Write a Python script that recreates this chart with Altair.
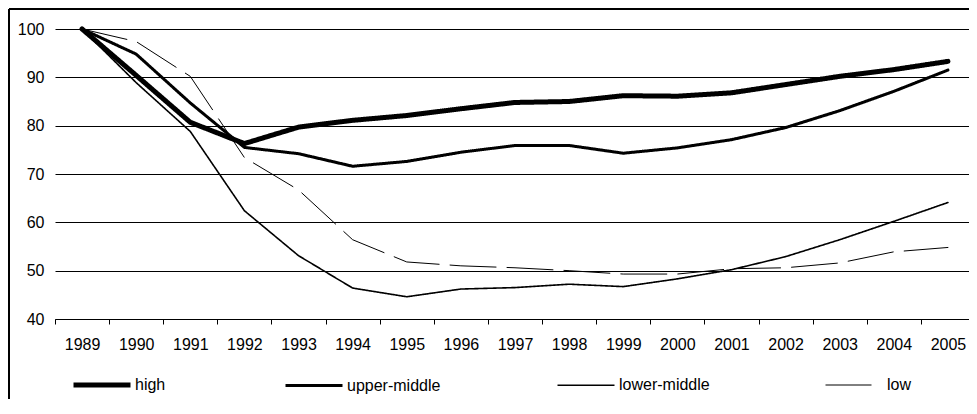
import altair as alt
import pandas as pd

years = [str(y) for y in range(1989, 2006)]
series_names = ["high", "upper-middle", "lower-middle", "low"]
high = [100, 90.4, 80.7, 76.3, 79.7, 81.1, 82.1, 83.5, 84.8, 85.0, 86.2, 86.1, 86.8, 88.5, 90.2, 91.6, 93.3]
upper_middle = [100, 94.8, 84.7, 75.5, 74.2, 71.6, 72.6, 74.5, 75.9, 75.9, 74.3, 75.4, 77.1, 79.6, 83.1, 87.1, 91.5]
lower_middle = [100, 88.9, 78.8, 62.4, 53.1, 46.4, 44.6, 46.2, 46.5, 47.2, 46.7, 48.3, 50.2, 52.9, 56.4, 60.2, 64.1]
low = [100, 97.4, 90.2, 73.4, 66.7, 56.4, 51.8, 51.0, 50.6, 50.0, 49.3, 49.3, 50.4, 50.6, 51.6, 53.9, 54.8]
y_ticks = [40, 50, 60, 70, 80, 90, 100]

rows = []
for name, vals in zip(series_names, [high, upper_middle, lower_middle, low]):
    for yr, v in zip(years, vals):
        rows.append({"year": yr, "value": v, "series": name})
df = pd.DataFrame(rows)

FONT = "Liberation Sans"

lines = alt.Chart(df).mark_line(color="black", strokeCap="round", strokeJoin="round").encode(
    x=alt.X("year:N", sort=years, title=None,
            scale=alt.Scale(paddingInner=0, paddingOuter=0),
            axis=alt.Axis(labelAngle=0, tickBand="extent", tickSize=5, labelPadding=12,
                          domainColor="black", tickColor="black", labelFont=FONT,
                          labelFontSize=16, labelColor="black", grid=False)),
    y=alt.Y("value:Q", title=None,
            scale=alt.Scale(domain=[40, 100], nice=False, zero=False),
            axis=alt.Axis(values=y_ticks, domain=False, ticks=False, labelPadding=11,
                          gridColor="black", gridWidth=1, gridOpacity=1,
                          labelFont=FONT, labelFontSize=16, labelColor="black")),
    detail="series:N",
    strokeWidth=alt.StrokeWidth("series:N", sort=series_names,
                                scale=alt.Scale(type="ordinal", domain=series_names,
                                                range=[5, 3, 1.6, 1]),
                                legend=alt.Legend(title=None)),
    strokeDash=alt.StrokeDash("series:N", sort=series_names,
                              scale=alt.Scale(domain=series_names,
                                              range=[[1, 0], [1, 0], [1, 0], [46, 11]]),
                              legend=alt.Legend(title=None)),
)

border_df = pd.DataFrame({"a": [0]})
left_border = alt.Chart(border_df).mark_rule(color="black", strokeWidth=2).encode(
    x=alt.value(-46), y=alt.value(-20), y2=alt.value(400)
)
top_border = alt.Chart(border_df).mark_rule(color="black", strokeWidth=2).encode(
    x=alt.value(-46), x2=alt.value(940), y=alt.value(-20)
)

chart = alt.layer(lines, left_border, top_border).properties(
    width=920,
    height=290,
    autosize=alt.AutoSizeParams(type="none"),
    padding={"left": 47, "top": 21, "right": -6, "bottom": 80},
).configure_view(stroke=None).configure_legend(
    orient="none",
    legendX=16,
    legendY=325,
    direction="horizontal",
    columns=4,
    columnPadding=113,
    symbolType="stroke",
    symbolSize=3249,
    symbolStrokeColor="black",
    labelFont=FONT,
    labelFontSize=16,
    labelColor="black",
    labelOffset=2,
)

chart.save("out.html", embed_options={"renderer": "svg", "actions": False})
